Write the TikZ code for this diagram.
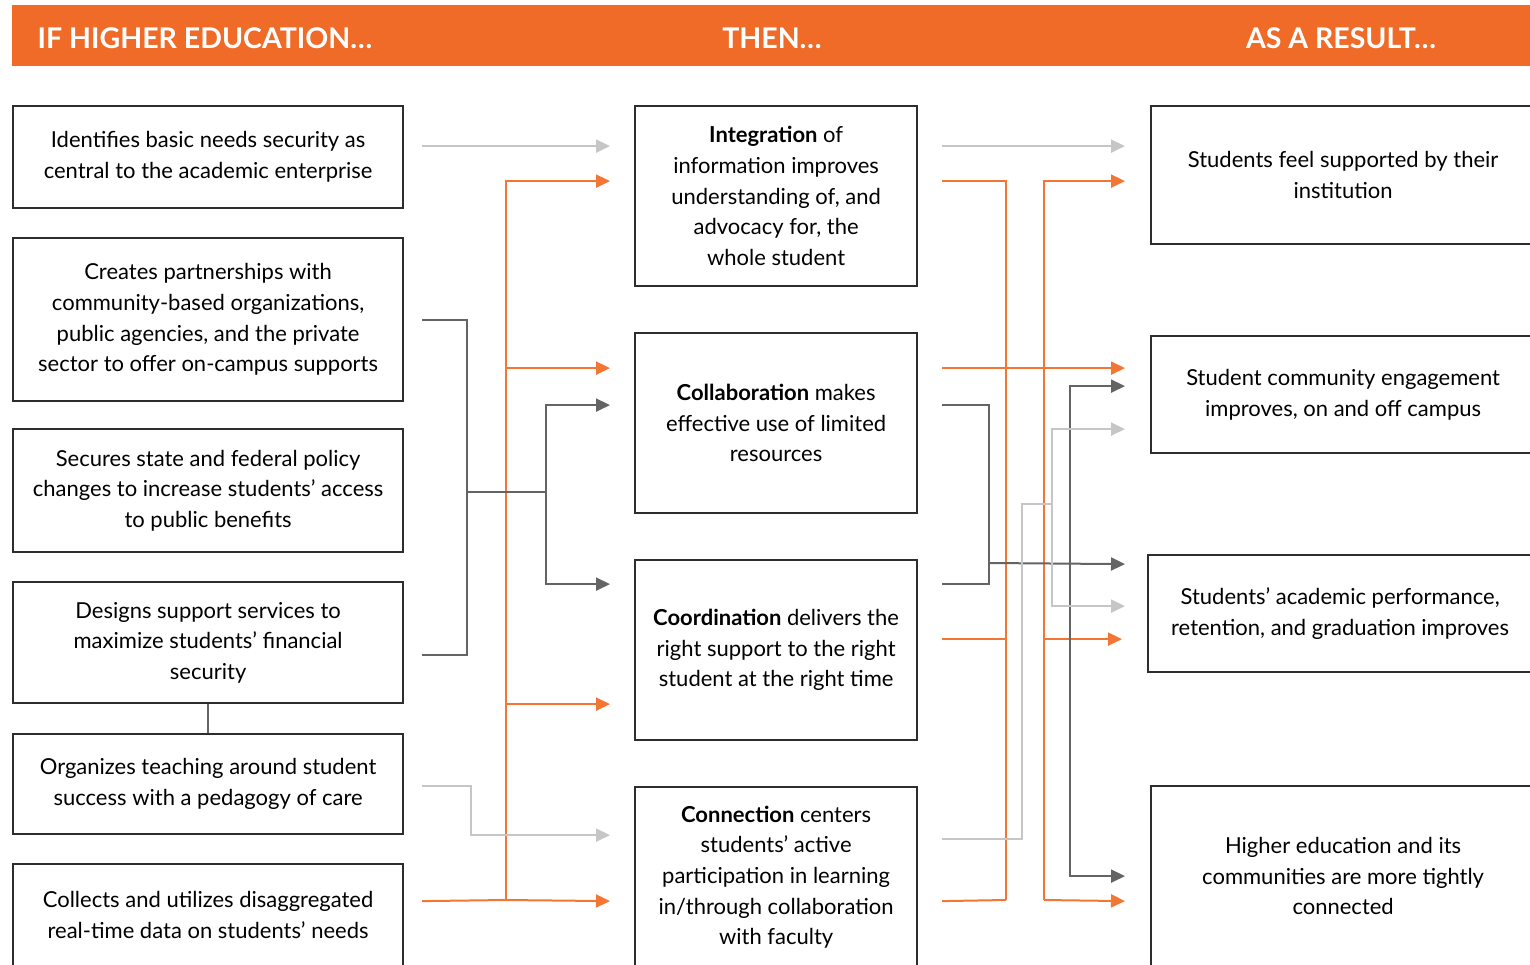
\documentclass[tikz,border=0pt]{standalone}
\usepackage{fontspec}
\setmainfont{Lato}
\usetikzlibrary{arrows.meta, positioning}
\definecolor{brandorange}{RGB}{240,106,40}
\definecolor{lineorange}{RGB}{243,118,52}
\definecolor{linegray}{RGB}{100,100,100}
\definecolor{palegray}{RGB}{198,198,198}
\definecolor{boxgray}{RGB}{45,45,45}

\tikzset{
  cbox/.style={draw=boxgray, line width=2.2pt, align=center, inner sep=0pt, anchor=north west,
    font=\fontsize{22}{30.7}\selectfont},
  lbox/.style={cbox, minimum width=390pt},
  mbox/.style={cbox, minimum width=282pt, minimum height=180pt},
  rbox/.style={cbox, minimum width=384pt},
  headtxt/.style={text=white, font=\fontsize{28.5}{32}\selectfont\bfseries},
  orng/.style={draw=lineorange, line width=2pt},
  dgray/.style={draw=linegray, line width=2pt},
  pale/.style={draw=palegray, line width=2pt},
  tip/.style={-{Triangle[length=14pt,width=13pt]}},
}

\begin{document}
\begin{tikzpicture}[x=1pt, y=-1pt]
  \useasboundingbox (0,0) rectangle (1530,964);

  % Kopfzeile
  \node[fill=brandorange, minimum width=1523pt, minimum height=61pt, inner sep=0pt, anchor=north west] (band) at (12,5) {};
  \node[headtxt] (h1) at (205,38) {IF HIGHER EDUCATION…};
  \node[headtxt] (h2) at (772,38) {THEN…};
  \node[headtxt] (h3) at (1341,38) {AS A RESULT…};

  % linke Spalte
  \node[lbox, minimum height=102pt] (L1) at (12,105) {Identifies basic needs security as\\central to the academic enterprise};
  \node[lbox, minimum height=163pt] (L2) at (12,237) {Creates partnerships with\\community-based organizations,\\public agencies, and the private\\sector to offer on-campus supports};
  \node[lbox, minimum height=123pt] (L3) at (12,428) {Secures state and federal policy\\changes to increase students' access\\to public benefits};
  \node[lbox, minimum height=121pt] (L4) at (12,581) {Designs support services to\\maximize students' financial\\security};
  \node[lbox, minimum height=100pt] (L5) at (12,733) {Organizes teaching around student\\success with a pedagogy of care};
  \node[lbox, minimum height=102pt] (L6) at (12,863) {Collects and utilizes disaggregated\\real-time data on students' needs};

  % mittlere Spalte
  \node[mbox] (C1) at (634,105) {\textbf{Integration} of\\information improves\\understanding of, and\\advocacy for, the\\whole student};
  \node[mbox] (C2) at (634,332) {\textbf{Collaboration} makes\\effective use of limited\\resources};
  \node[mbox] (C3) at (634,559) {\textbf{Coordination} delivers the\\right support to the right\\student at the right time};
  \node[mbox] (C4) at (634,786) {\textbf{Connection} centers\\students' active\\participation in learning\\in/through collaboration\\with faculty};

  % rechte Spalte
  \node[rbox, minimum height=138pt] (R1) at (1150,105) {Students feel supported by their\\institution};
  \node[rbox, minimum height=117pt] (R2) at (1150,335) {Student community engagement\\improves, on and off campus};
  \node[rbox, minimum height=117pt] (R3) at (1147,554) {Students' academic performance,\\retention, and graduation improves};
  \node[rbox, minimum height=180pt] (R4) at (1150,785) {Higher education and its\\communities are more tightly\\connected};

  % Verbindungen links
  \coordinate (lt) at (506,900);
  \coordinate (gb) at (467,492);
  \coordinate (gs) at (546,492);
  \draw[pale,tip] ([shift={(18,-11)}]L1.east) -- ([shift={(-24,-50)}]C1.west);
  \draw[orng] ([shift={(18,-14)}]L6.east) -- (lt);
  \draw[orng,tip] (lt) |- ([shift={(-24,-15)}]C1.west);
  \draw[orng,tip] (lt) |- ([shift={(-24,-55)}]C2.west);
  \draw[orng,tip] (lt) |- ([shift={(-24,54)}]C3.west);
  \draw[orng,tip] (lt) -- ([shift={(-24,24)}]C4.west);
  \draw[dgray] ([shift={(18,0)}]L2.east) -| (gb);
  \draw[dgray] ([shift={(18,12.5)}]L4.east) -| (gb);
  \draw[dgray] (gb) -- (gs);
  \draw[dgray,tip] (gs) |- ([shift={(-24,-18)}]C2.west);
  \draw[dgray,tip] (gs) |- ([shift={(-24,-66)}]C3.west);
  \draw[dgray] (L4.south) -- (L5.north);
  \draw[pale,tip] ([shift={(18,2)}]L5.east) -- ++(49,0) |- ([shift={(-24,-42)}]C4.west);

  % Verbindungen rechts
  \coordinate (ra) at (1006,900);
  \coordinate (rb) at (1044,900);
  \coordinate (rg) at (989,563);
  \coordinate (rh) at (1070,563);
  \coordinate (rp) at (1052,504);
  \draw[pale,tip] ([shift={(24,-50)}]C1.east) -- ([shift={(-25,-29)}]R1.west);
  \draw[orng] ([shift={(24,-15)}]C1.east) -| (ra);
  \draw[orng] ([shift={(24,-11)}]C3.east) -| (ra);
  \draw[orng] ([shift={(24,24)}]C4.east) -- (ra);
  \draw[orng,tip] ([shift={(24,-55)}]C2.east) -- ([shift={(-25,-26.5)}]R2.west);
  \draw[orng,tip] (rb) |- ([shift={(-25,6)}]R1.west);
  \draw[orng,tip] (rb) |- ([shift={(-25,25.5)}]R3.west);
  \draw[orng,tip] (rb) -- ([shift={(-25,25)}]R4.west);
  \draw[dgray] ([shift={(24,-18)}]C2.east) -| (rg);
  \draw[dgray] ([shift={(24,-66)}]C3.east) -| (rg);
  \draw[dgray,tip] (rg) -- ([shift={(-22,-49.5)}]R3.west);
  \draw[dgray,tip] (rh) |- ([shift={(-25,-8.5)}]R2.west);
  \draw[dgray,tip] (rh) |- ([shift={(-25,0)}]R4.west);
  \draw[pale] ([shift={(24,-38)}]C4.east) -- ++(80,0) |- (rp);
  \draw[pale,tip] (rp) |- ([shift={(-25,34.5)}]R2.west);
  \draw[pale,tip] (rp) |- ([shift={(-22,-7.5)}]R3.west);
\end{tikzpicture}
\end{document}
